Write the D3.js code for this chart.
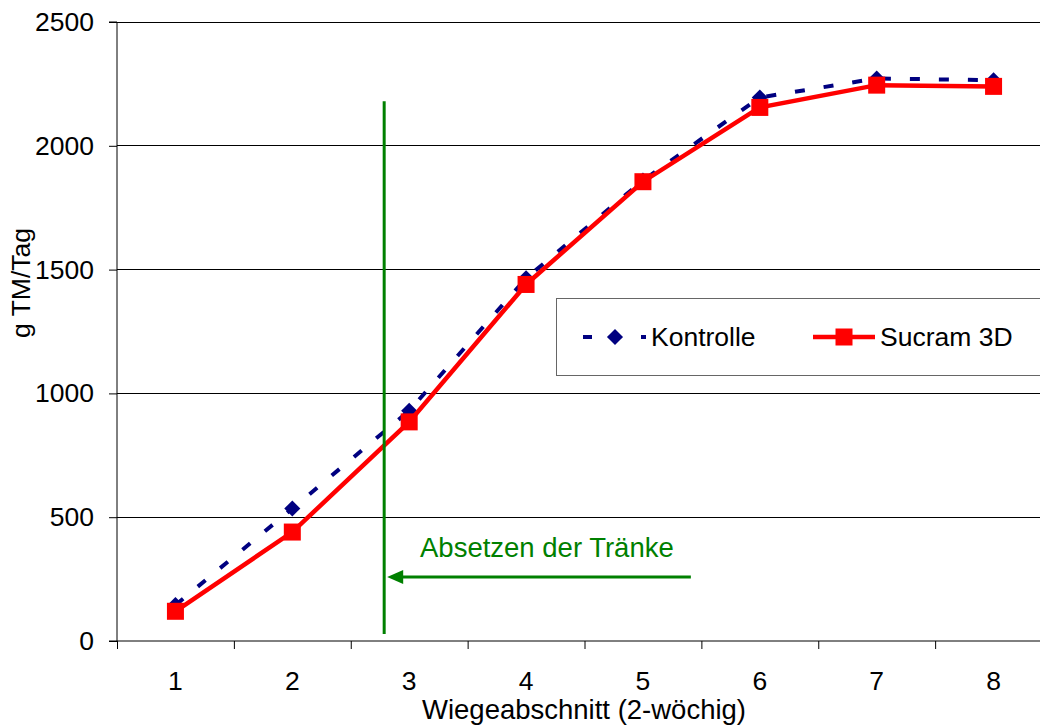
<!DOCTYPE html>
<html><head><meta charset="utf-8">
<script src="https://cdn.jsdelivr.net/npm/d3@7"></script>
<style>body{margin:0;background:#fff}svg{display:block}text{font-family:"Liberation Sans",Arial,sans-serif}</style>
</head><body>
<svg id="c" width="1040" height="726"></svg>
<script>
const categories = ["1","2","3","4","5","6","7","8"];
const kontrolle = [145, 535, 930, 1465, 1860, 2195, 2272, 2265];
const sucram = [120, 440, 885, 1440, 1855, 2155, 2245, 2240];
const yTicks = [0, 500, 1000, 1500, 2000, 2500];
const seriesNames = ["Kontrolle", "Sucram 3D"];
const annotationText = "Absetzen der Tränke";
// annotation position in data units (x: category index, y: value)
const weanX = 2.786, weanTop = 2180, weanBottom = 28;
const arrowY = 258, arrowEndX = 5.41;

const FS = 26.5, FT = 27.5;
const svg = d3.select("#c");
const L = 117, T = 22, B = 641, R = 1052;
const x = d3.scaleLinear().domain([0.5, 8.5]).range([L, R]);
const y = d3.scaleLinear().domain([0, 2500]).range([B, T]);

// gridlines
svg.append("g").selectAll("line").data(yTicks.filter(d => d > 0)).join("line")
  .attr("x1", L).attr("x2", 1040).attr("y1", d => y(d)).attr("y2", d => y(d))
  .attr("stroke", "#000").attr("stroke-width", 1).attr("shape-rendering", "crispEdges");

// y axis
const ya = svg.append("g").attr("transform", `translate(${L},0)`)
  .call(d3.axisLeft(y).tickValues(yTicks).tickSize(8).tickPadding(15).tickFormat(d3.format("d")));
ya.selectAll("text").attr("font-size", FS).attr("fill", "#000").style("font-family", "Liberation Sans, Arial");
ya.select(".domain").attr("stroke", "#000").attr("d", `M-8,${B}H0V${T}H-8`);
ya.selectAll(".tick line").attr("stroke", "#000");

// x axis
const xa = svg.append("g").attr("transform", `translate(0,${B})`)
  .call(d3.axisBottom(x).tickValues(d3.range(0.5, 8.5, 1)).tickSize(8).tickFormat(""));
xa.select(".domain").attr("stroke", "#000").attr("d", `M${L},0H1040`);
xa.selectAll(".tick line").attr("stroke", "#000");
svg.append("g").selectAll("text").data(categories).join("text")
  .attr("x", (d, i) => x(i + 1)).attr("y", 690).attr("text-anchor", "middle")
  .attr("font-size", FS).text(d => d);

// axis titles
svg.append("text").attr("x", 584).attr("y", 719).attr("text-anchor", "middle").attr("font-size", FT)
  .text("Wiegeabschnitt (2-wöchig)");
svg.append("text").attr("transform", "translate(30,283) rotate(-90)").attr("text-anchor", "middle").attr("font-size", FS)
  .text("g TM/Tag");

// lines
const line = d3.line().x((d, i) => x(i + 1)).y(d => y(d));
svg.append("path").datum(kontrolle).attr("d", line).attr("fill", "none")
  .attr("stroke", "#000080").attr("stroke-width", 4).attr("stroke-dasharray", "10,19");
svg.append("g").selectAll("path").data(kontrolle).join("path")
  .attr("d", d3.symbol(d3.symbolDiamond2, 165)).attr("transform", (d, i) => `translate(${x(i + 1)},${y(d)})`)
  .attr("fill", "#000080");

svg.append("path").datum(sucram).attr("d", line).attr("fill", "none")
  .attr("stroke", "#ff0000").attr("stroke-width", 4.5);
svg.append("g").selectAll("rect").data(sucram).join("rect")
  .attr("x", (d, i) => x(i + 1) - 8.5).attr("y", d => y(d) - 8.5).attr("width", 17).attr("height", 17)
  .attr("fill", "#ff0000");

// annotation
const green = "#008000";
svg.append("line").attr("x1", x(weanX)).attr("x2", x(weanX)).attr("y1", y(weanTop)).attr("y2", y(weanBottom))
  .attr("stroke", green).attr("stroke-width", 3);
const ax0 = x(weanX) + 3, ax1 = x(arrowEndX), ay = y(arrowY);
svg.append("line").attr("x1", ax0 + 10).attr("x2", ax1).attr("y1", ay).attr("y2", ay)
  .attr("stroke", green).attr("stroke-width", 3);
svg.append("path").attr("d", `M${ax0},${ay}L${ax0 + 16},${ay - 7}L${ax0 + 16},${ay + 7}Z`).attr("fill", green);
svg.append("text").attr("x", 420).attr("y", 557).attr("font-size", FT).attr("fill", green).text(annotationText);

// legend
const lg = svg.append("g");
lg.append("rect").attr("x", 556.5).attr("y", 298.5).attr("width", 500).attr("height", 77)
  .attr("fill", "#fff").attr("stroke", "#666").attr("stroke-width", 1);
lg.append("line").attr("x1", 583).attr("x2", 646).attr("y1", 337).attr("y2", 337)
  .attr("stroke", "#000080").attr("stroke-width", 4).attr("stroke-dasharray", "9,20");
lg.append("path").attr("d", d3.symbol(d3.symbolDiamond2, 165)).attr("transform", "translate(615,337)").attr("fill", "#000080");
lg.append("text").attr("x", 651).attr("y", 346).attr("font-size", FS).text(seriesNames[0]);
lg.append("line").attr("x1", 813).attr("x2", 875).attr("y1", 337).attr("y2", 337)
  .attr("stroke", "#ff0000").attr("stroke-width", 4.5);
lg.append("rect").attr("x", 835.5).attr("y", 328.5).attr("width", 17).attr("height", 17).attr("fill", "#ff0000");
lg.append("text").attr("x", 880).attr("y", 346).attr("font-size", FS).text(seriesNames[1]);
</script>
</body></html>
